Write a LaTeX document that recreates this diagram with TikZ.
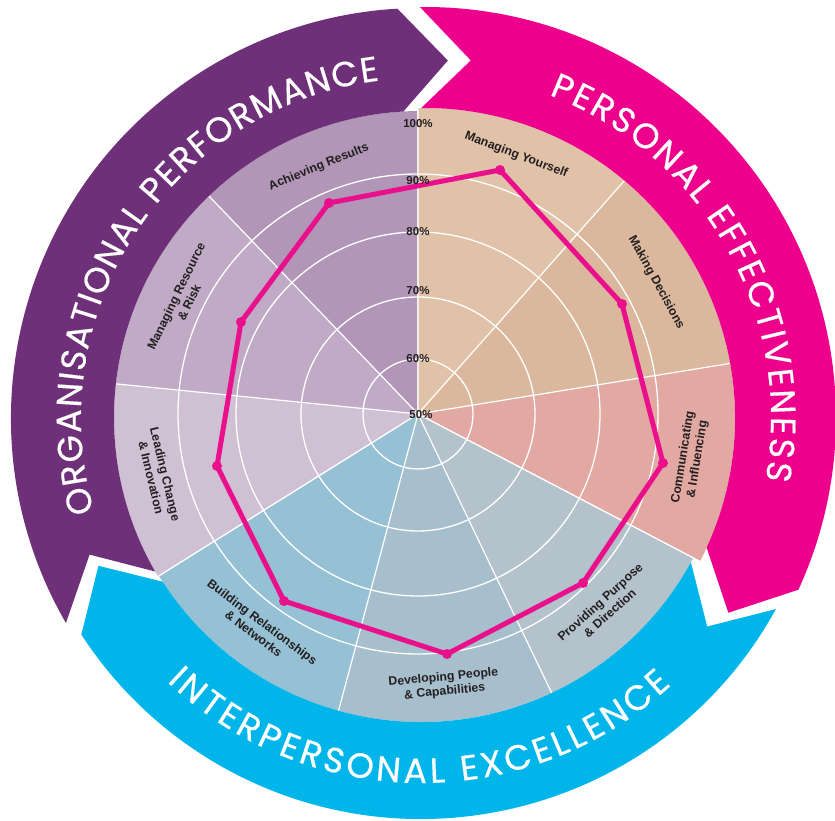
\documentclass[tikz,border=0pt]{standalone}
\usepackage{fontspec}
\setmainfont{Liberation Sans}
\newfontfamily\bandfont[FakeBold=0.4]{Poppins}
\usetikzlibrary{decorations.text}
\definecolor{bandpurple}{RGB}{110,48,120}
\definecolor{bandpink}{RGB}{236,0,140}
\definecolor{bandcyan}{RGB}{0,181,234}
\definecolor{wAR}{RGB}{178,150,183}
\definecolor{wMR}{RGB}{192,170,198}
\definecolor{wLC}{RGB}{208,192,212}
\definecolor{wMY}{RGB}{224,194,168}
\definecolor{wMD}{RGB}{219,184,157}
\definecolor{wCI}{RGB}{226,168,162}
\definecolor{wPP}{RGB}{180,194,204}
\definecolor{wDP}{RGB}{167,191,205}
\definecolor{wBR}{RGB}{150,192,212}
\definecolor{labelgray}{RGB}{35,31,32}
\definecolor{datapink}{RGB}{234,16,140}
\newcommand\bandtext{\bandfont\fontsize{35}{35}\selectfont\color{white}}
\begin{document}
\begin{tikzpicture}[x=1pt,y=1pt,
  lbl/.style={font=\bfseries\fontsize{12.3}{14.5}\selectfont, text=labelgray, align=center, inner sep=0pt},
  pct/.style={font=\bfseries\fontsize{11.5}{12}\selectfont, text=labelgray, inner sep=0pt},
  gridring/.style={draw=white, line width=1.3pt},
  spoke/.style={draw=white, line width=1.2pt},
  dataline/.style={draw=datapink, line width=5pt, line join=round},
  datadot/.style={fill=datapink}]
\useasboundingbox (0,0) rectangle (835,821);
\coordinate (O) at (418,407);
% purple group wedges
\begin{scope}
\clip (421,403) circle (307);
\begin{scope}[shift={(418,407)}]
\fill[wAR] (0,0) -- (90:400) arc[start angle=90,end angle=133.8,radius=400] -- cycle;
\fill[wMR] (0,0) -- (133.8:400) arc[start angle=133.8,end angle=174.3,radius=400] -- cycle;
\fill[wLC] (0,0) -- (174.3:400) arc[start angle=174.3,end angle=212,radius=400] -- cycle;
\draw[spoke] (0,0) -- (90:400) (0,0) -- (133.8:400) (0,0) -- (174.3:400) (0,0) -- (212:400);
\end{scope}
\end{scope}
% pink group wedges
\begin{scope}
\clip (425,403) circle (310);
\begin{scope}[shift={(418,407)}]
\fill[wMY] (0,0) -- (48.5:400) arc[start angle=48.5,end angle=90,radius=400] -- cycle;
\fill[wMD] (0,0) -- (9.2:400) arc[start angle=9.2,end angle=48.5,radius=400] -- cycle;
\fill[wCI] (0,0) -- (-27.6:400) arc[start angle=-27.6,end angle=9.2,radius=400] -- cycle;
\draw[spoke] (0,0) -- (90:400) (0,0) -- (48.5:400) (0,0) -- (9.2:400) (0,0) -- (-27.6:400);
\end{scope}
\end{scope}
% cyan group wedges
\begin{scope}
\clip (421,407) circle (308);
\begin{scope}[shift={(418,407)}]
\fill[wPP] (0,0) -- (-64.4:400) arc[start angle=-64.4,end angle=-27.6,radius=400] -- cycle;
\fill[wDP] (0,0) -- (-105:400) arc[start angle=-105,end angle=-64.4,radius=400] -- cycle;
\fill[wBR] (0,0) -- (-148:400) arc[start angle=-148,end angle=-105,radius=400] -- cycle;
\draw[spoke] (0,0) -- (-27.6:400) (0,0) -- (-64.4:400) (0,0) -- (-105:400) (0,0) -- (-148:400);
\end{scope}
\end{scope}
% rings
\draw[gridring] (O) circle (55) (O) circle (117) (O) circle (182) (O) circle (240);
% sector labels
\begin{scope}[shift={(418,407)}]
\node[lbl, rotate=22] (lAR) at (111.9:266) {Achieving Results};
\node[lbl, rotate=-20.75] (lMY) at (69.25:277) {Managing Yourself};
\node[lbl, rotate=-61.15] (lMD) at (28.85:272) {Making Decisions};
\node[lbl, rotate=80.8] (lCI) at (-9.2:276) {Communicating\\\& Influencing};
\node[lbl, rotate=42] (lPP) at (-46:269) {Providing Purpose\\\& Direction};
\node[lbl, rotate=5.5] (lDP) at (-84.5:272) {Developing People\\\& Capabilities};
\node[lbl, rotate=-36.8] (lBR) at (-126.8:267) {Building Relationships\\\& Networks};
\node[lbl, rotate=-76.6] (lLC) at (193.4:267) {Leading Change\\\& Innovation};
\node[lbl, rotate=64] (lMR) at (154:262) {Managing Resource\\\& Risk};
\end{scope}
% data
\coordinate (d1) at (329,618);
\coordinate (d2) at (500,651);
\coordinate (d3) at (622,517);
\coordinate (d4) at (663,358);
\coordinate (d5) at (583,238);
\coordinate (d6) at (447,167);
\coordinate (d7) at (284,220);
\coordinate (d8) at (217,355);
\coordinate (d9) at (241,499);
\draw[dataline] (d1) -- (d2) -- (d3) -- (d4) -- (d5) -- (d6) -- (d7) -- (d8) -- (d9) -- cycle;
\foreach \p in {d1,d2,d3,d4,d5,d6,d7,d8,d9} \fill[datadot] (\p) circle (5);
% percentages
\node[pct] (p100) at (418,697) {100\%};
\node[pct] (p90) at (418,640) {90\%};
\node[pct] (p80) at (418,589) {80\%};
\node[pct] (p70) at (418,530) {70\%};
\node[pct] (p60) at (418,462) {60\%};
\node[pct] (p50) at (421,406) {50\%};
% bands
\begin{scope}[shift={(421,403)}]
\fill[bandpurple] (210:410) arc[start angle=210,end angle=93.3,radius=410] -- (85.7:358.5) -- (93.3:307) arc[start angle=93.3,end angle=210,radius=307] -- (202.4:358.5) -- cycle;
\path[decorate, decoration={text along path, text align=fit to path, text={|\bandtext|ORGANISATIONAL PERFORMANCE}}] (196:340) arc[start angle=196, end angle=97, radius=340];
\end{scope}
\begin{scope}[shift={(425,403)}]
\fill[bandpink] (90.7:411) arc[start angle=90.7,end angle=-24.7,radius=411] -- (-32.7:360.5) -- (-24.7:310) arc[start angle=-24.7,end angle=90.7,radius=310] -- (82.7:360.5) -- cycle;
\path[decorate, decoration={text along path, text align=fit to path, text={|\bandtext|PERSONAL EFFECTIVENESS}}] (69:346) arc[start angle=69, end angle=-10.3, radius=346];
\end{scope}
\begin{scope}[shift={(421,407)}]
\fill[bandcyan] (-28.8:405) arc[start angle=-28.8,end angle=-147,radius=405] -- (-154.8:356.5) -- (-147:308) arc[start angle=-147,end angle=-28.8,radius=308] -- (-36.6:356.5) -- cycle;
\path[decorate, decoration={text along path, text align=fit to path, text={|\bandtext|INTERPERSONAL EXCELLENCE}}] (226.5:369) arc[start angle=226.5, end angle=312.7, radius=369];
\end{scope}
\end{tikzpicture}
\end{document}
